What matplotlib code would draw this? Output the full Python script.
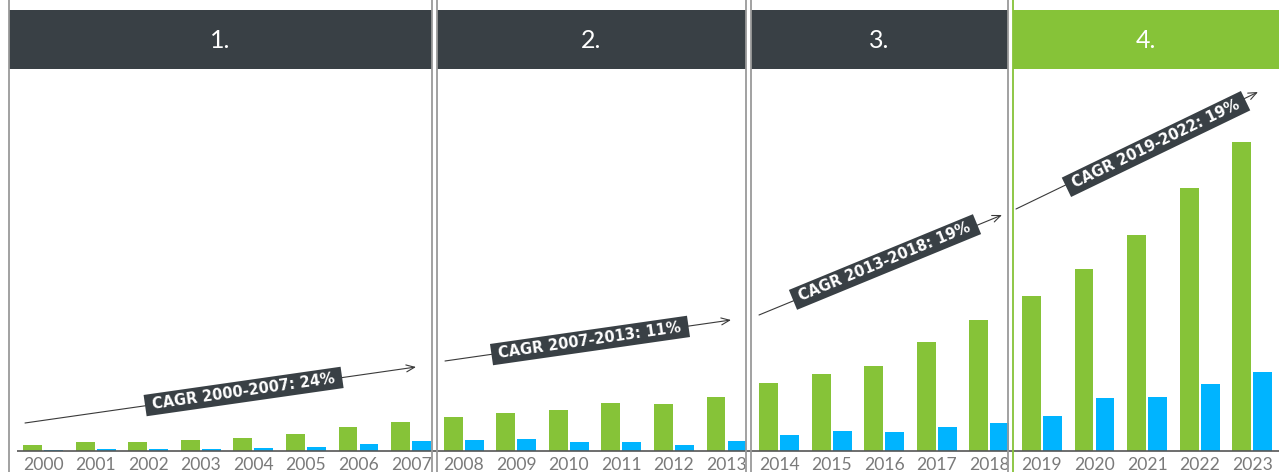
import math
import matplotlib
matplotlib.use("Agg")
import matplotlib.pyplot as plt
from matplotlib.patches import Rectangle

# ---------------- data ----------------
years = list(range(2000, 2024))
green_values = [6.0, 9.3, 9.3, 11.0, 13.0, 17.3, 24.3, 29.3,
                34.3, 38.3, 41.3, 48.3, 47.3, 54.3,
                68.3, 77.3, 85.3, 109.0, 131.0,
                155.0, 182.0, 216.0, 263.0, 309.0]
blue_values = [1.3, 2.0, 2.0, 2.0, 3.0, 4.0, 7.3, 10.3,
               11.0, 12.0, 9.0, 9.0, 6.0, 10.0,
               16.0, 20.3, 19.3, 24.0, 28.3,
               35.3, 53.3, 54.3, 67.3, 79.3]
phase_labels = ["1.", "2.", "3.", "4."]
cagr_labels = ["CAGR 2000-2007: 24%", "CAGR 2007-2013: 11%",
               "CAGR 2013-2018: 19%", "CAGR 2019-2022: 19%"]

# ---------------- style ----------------
GREEN = "#86c338"
BLUE = "#00b4ff"
DARK = "#394045"
BORDER = "#9a9a9a"
TICK = "#7a7a7a"
W, H = 1279, 472

plt.rcParams["font.family"] = ["Lato", "DejaVu Sans"]

fig = plt.figure(figsize=(W / 100, H / 100), dpi=100)

# main bar axes (full figure); baseline sits 21 px above the bottom
ax = fig.add_axes([0, 0, 1, 1])
ax.set_xlim(1999.18, 2023.51)
ax.set_ylim(-21, 451)
ax.axis("off")
bw = 0.36
ax.bar([y - 0.2 for y in years], green_values, width=bw, color=GREEN, zorder=2)
ax.bar([y + 0.2 for y in years], blue_values, width=bw, color=BLUE, zorder=2)
ax.plot([1999.5, 2023.51], [0, 0], color="#555555", lw=1.2, zorder=3,
        solid_capstyle="butt")
for y in years:
    ax.text(y, -6.0, str(y), ha="center", va="top", fontsize=12.6,
            color=TICK, fontweight="normal")

# overlay axes in pixel coordinates (y from bottom)
ov = fig.add_axes([0, 0, 1, 1])
ov.set_xlim(0, W)
ov.set_ylim(0, H)
ov.axis("off")
ov.patch.set_alpha(0)

def Y(y):
    return H - y

panels = [(9, 432, DARK, BORDER), (436.5, 746, DARK, BORDER),
          (750.5, 1007.7, DARK, BORDER), (1012.7, 1281, GREEN, GREEN)]
for (x0, x1, fc, ec), lab in zip(panels, phase_labels):
    ov.add_patch(Rectangle((x0, Y(68.5)), x1 - x0, 58.5, facecolor=fc,
                           edgecolor="none", zorder=4))
    ov.plot([x0, x0], [0, H], color=ec, lw=1.3, zorder=5)
    if x1 < W:
        ov.plot([x1, x1], [0, H], color=ec, lw=1.3, zorder=5)
    ov.text((x0 + x1) / 2 if x1 < W else (x0 + W) / 2, Y(40), lab,
            ha="center", va="center", color="white", fontsize=18,
            fontweight="normal", zorder=6)

arrows = [((25, 423), (416, 367), (243.6, 391.5)),
          ((445, 361), (731, 320), (590, 340.5)),
          ((759, 315), (1002, 215), (885, 262)),
          ((1016, 209), (1258, 92), (1156, 144))]
for ((sx, sy), (ex, ey), (cx, cy)), lab in zip(arrows, cagr_labels):
    ov.annotate("", xy=(ex, Y(ey)), xytext=(sx, Y(sy)),
                arrowprops=dict(arrowstyle="->,head_length=0.6,head_width=0.25",
                                color="#3a3a3a", lw=0.8,
                                shrinkA=0, shrinkB=0), zorder=6)
    ang = math.degrees(math.atan2(sy - ey, ex - sx))
    bwid, bht = 199, 21.5
    ov.add_patch(Rectangle((cx - bwid / 2, Y(cy) - bht / 2), bwid, bht,
                           angle=ang, rotation_point="center",
                           facecolor=DARK, edgecolor="none", zorder=7))
    ov.text(cx, Y(cy), lab, rotation=ang, rotation_mode="anchor",
            ha="center", va="center", color="white", fontsize=10.5,
            fontweight="bold", family="DejaVu Sans", zorder=8)

fig.savefig("out.png", dpi=100)
